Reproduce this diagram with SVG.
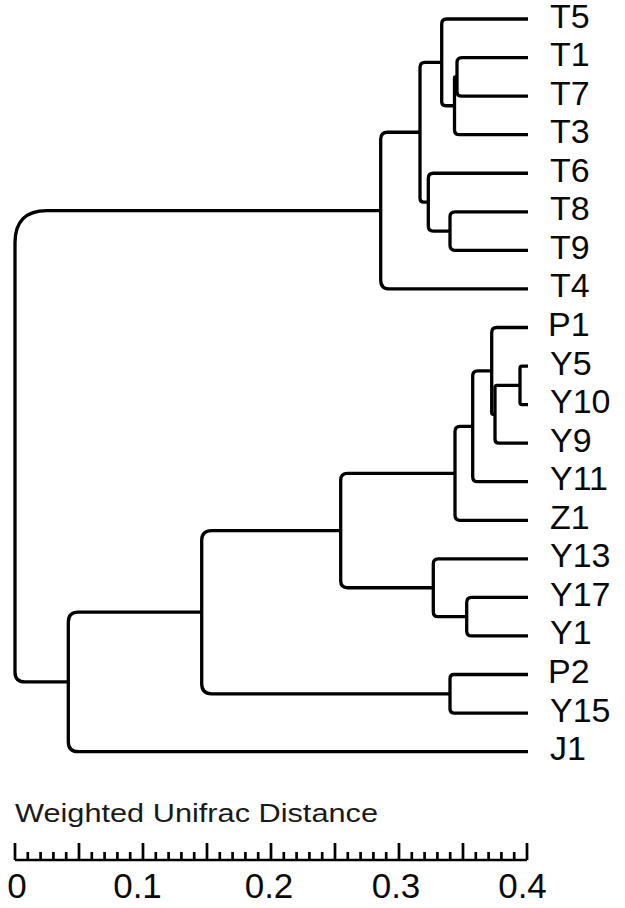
<svg xmlns="http://www.w3.org/2000/svg" width="625" height="908" viewBox="0 0 625 908">
<style>
.br{fill:none;stroke:#000;stroke-width:3.3;stroke-linecap:butt;stroke-linejoin:round}
.lb{font-family:"Liberation Sans",Arial,sans-serif;font-size:34px;fill:#0a0a0a}
.ax{fill:none;stroke:#000;stroke-width:2.7}
.tk{font-family:"Liberation Sans",Arial,sans-serif;font-size:35px;fill:#0a0a0a;text-anchor:middle}
.tt{font-family:"Liberation Sans",Arial,sans-serif;font-size:26px;fill:#1a1a1a}
</style>
<rect width="625" height="908" fill="#fff"/>
<g id="connectors">
<path class="br" d="M380.7,210.6 H47 Q15,210.6 15,242.6 V671.9 Q15,681.9 25,681.9 H68.3"/>
<path class="br" d="M420,132.27 H387.7 Q380.7,132.27 380.7,139.27 V279.92 Q380.7,288.92 389.7,288.92 H528"/>
<path class="br" d="M441.7,62.38 H425 Q420,62.38 420,67.38 V198.16 Q420,202.16 424,202.16 H428.3"/>
<path class="br" d="M528,19 H446.7 Q441.7,19 441.7,24 V101.76 Q441.7,105.76 445.7,105.76 H454.5"/>
<path class="br" d="M457,76.84 H455.5 Q454.5,76.84 454.5,77.84 V129.68 Q454.5,134.68 459.5,134.68 H528"/>
<path class="br" d="M528,57.56 H462 Q457,57.56 457,62.56 V92.12 Q457,96.12 461,96.12 H528"/>
<path class="br" d="M528,173.24 H433.3 Q428.3,173.24 428.3,178.24 V226.08 Q428.3,231.08 433.3,231.08 H450"/>
<path class="br" d="M528,211.8 H455 Q450,211.8 450,216.8 V245.36 Q450,250.36 455,250.36 H528"/>
<path class="br" d="M201.7,612.17 H78.3 Q68.3,612.17 68.3,622.17 V741.64 Q68.3,751.64 78.3,751.64 H528"/>
<path class="br" d="M340.7,530.53 H211.7 Q201.7,530.53 201.7,540.53 V683.8 Q201.7,693.8 211.7,693.8 H450"/>
<path class="br" d="M455,473.29 H347.7 Q340.7,473.29 340.7,480.29 V580.76 Q340.7,587.76 347.7,587.76 H433.3"/>
<path class="br" d="M472.7,426.29 H460 Q455,426.29 455,431.29 V515.28 Q455,520.28 460,520.28 H528"/>
<path class="br" d="M491.7,370.86 H477.7 Q472.7,370.86 472.7,375.86 V476.72 Q472.7,481.72 477.7,481.72 H528"/>
<path class="br" d="M528,327.48 H496.7 Q491.7,327.48 491.7,332.48 V412.74 Q491.7,414.24 493.2,414.24 H495"/>
<path class="br" d="M520,385.32 H497 Q495,385.32 495,387.32 V439.16 Q495,443.16 499,443.16 H528"/>
<path class="br" d="M528,366.04 H522 Q520,366.04 520,368.04 V402.6 Q520,404.6 522,404.6 H528"/>
<path class="br" d="M528,558.84 H438.3 Q433.3,558.84 433.3,563.84 V611.68 Q433.3,616.68 438.3,616.68 H466.7"/>
<path class="br" d="M528,597.4 H471.7 Q466.7,597.4 466.7,602.4 V630.96 Q466.7,635.96 471.7,635.96 H528"/>
<path class="br" d="M528,674.52 H454 Q450,674.52 450,678.52 V709.08 Q450,713.08 454,713.08 H528"/>
</g>
<g id="leaf-T5"><text class="lb" x="550" y="27.5">T5</text></g>
<g id="leaf-T1"><text class="lb" x="550" y="66.06">T1</text></g>
<g id="leaf-T7"><text class="lb" x="550" y="104.62">T7</text></g>
<g id="leaf-T3"><text class="lb" x="550" y="143.18">T3</text></g>
<g id="leaf-T6"><text class="lb" x="550" y="181.74">T6</text></g>
<g id="leaf-T8"><text class="lb" x="550" y="220.3">T8</text></g>
<g id="leaf-T9"><text class="lb" x="550" y="258.86">T9</text></g>
<g id="leaf-T4"><text class="lb" x="550" y="297.42">T4</text></g>
<g id="leaf-P1"><text class="lb" x="548" y="335.98">P1</text></g>
<g id="leaf-Y5"><text class="lb" x="550" y="374.54">Y5</text></g>
<g id="leaf-Y10"><text class="lb" x="550" y="413.1">Y10</text></g>
<g id="leaf-Y9"><text class="lb" x="550" y="451.66">Y9</text></g>
<g id="leaf-Y11"><text class="lb" x="550" y="490.22">Y11</text></g>
<g id="leaf-Z1"><text class="lb" x="550" y="528.78">Z1</text></g>
<g id="leaf-Y13"><text class="lb" x="550" y="567.34">Y13</text></g>
<g id="leaf-Y17"><text class="lb" x="550" y="605.9">Y17</text></g>
<g id="leaf-Y1"><text class="lb" x="550" y="644.46">Y1</text></g>
<g id="leaf-P2"><text class="lb" x="548" y="683.02">P2</text></g>
<g id="leaf-Y15"><text class="lb" x="550" y="721.58">Y15</text></g>
<g id="leaf-J1"><text class="lb" x="550" y="760.14">J1</text></g>
<g id="scale-axis">
<text class="tt" x="15" y="822" textLength="363" lengthAdjust="spacingAndGlyphs">Weighted Unifrac Distance</text>
<path class="ax" d="M15,860 H527"/>
<path class="ax" d="M15,843V860 M27.8,852V860 M40.6,852V860 M53.4,852V860 M66.2,852V860 M79,843V860 M91.8,852V860 M104.6,852V860 M117.4,852V860 M130.2,852V860 M143,843V860 M155.8,852V860 M168.6,852V860 M181.4,852V860 M194.2,852V860 M207,843V860 M219.8,852V860 M232.6,852V860 M245.4,852V860 M258.2,852V860 M271,843V860 M283.8,852V860 M296.6,852V860 M309.4,852V860 M322.2,852V860 M335,843V860 M347.8,852V860 M360.6,852V860 M373.4,852V860 M386.2,852V860 M399,843V860 M411.8,852V860 M424.6,852V860 M437.4,852V860 M450.2,852V860 M463,843V860 M475.8,852V860 M488.6,852V860 M501.4,852V860 M514.2,852V860 M527,843V860"/>
<text class="tk" x="17" y="898">0</text>
<text class="tk" x="137.5" y="898">0.1</text>
<text class="tk" x="269" y="898">0.2</text>
<text class="tk" x="396" y="898">0.3</text>
<text class="tk" x="522.5" y="898">0.4</text>
</g>
</svg>
